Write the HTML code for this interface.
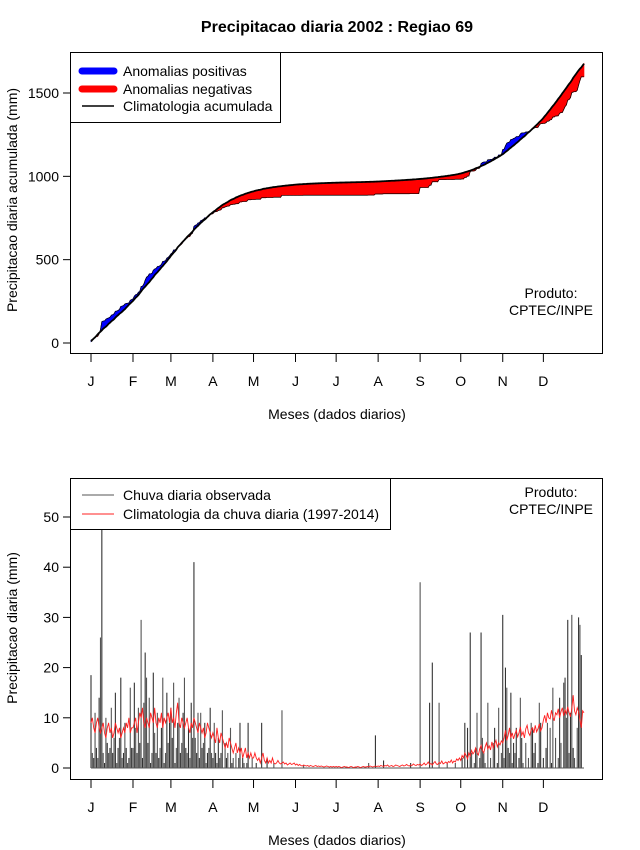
<!DOCTYPE html>
<html><head><meta charset="utf-8">
<style>
html,body{margin:0;padding:0;background:#fff;}
svg{display:block;font-family:"Liberation Sans",Arial,sans-serif;}
</style></head>
<body>
<svg id="chart" width="640" height="850" viewBox="0 0 640 850" xmlns="http://www.w3.org/2000/svg">
<rect x="0" y="0" width="640" height="850" fill="#fff"/>
<text x="337" y="32" font-size="16" font-weight="bold" text-anchor="middle">Precipitacao diaria 2002 : Regiao 69</text>
<g id="topPlot"></g>
<g id="bottomPlot"></g>
</svg>
<script>
const months = ["J","F","M","A","M","J","J","A","S","O","N","D"];
const monthStartDays = [1,32,60,91,121,152,182,213,244,274,305,335];
const topYTicks = [0,500,1000,1500];
const bottomYTicks = [0,10,20,30,40,50];
const obsJan = [18.5,3,2,11,4,2,14,26,48,3,1,10,5,3,4,12,3,6,15,1,4,6,18,2,3,9,4,1,2,16,4];
const obsFeb = [4,17,8,3,12,5,29.5,2,13,23,18,5,14,1,3,19,7,3,11,2,4,8,18,1,3,15,5,9];
const obsMar = [12,6,17,1,4,9,14,3,5,11,18,4,3,8,2,13,6,41,6,3,11,2,11,4,5,9,1,3,4,12,3];
const obsApr = [2,9,3,1,6,2,3,11.5,0,5,2,3,0,8,1,2,0,3,0,2,9,0,2,1,0,1,9,0,0,2];
const obsMay = [0,0,1,0,0,0,9,0,0,0,2,0,0,0,0,1,0,0,0,0,0,11.5,0,0,0,0,0,0,0,0,0];
const obsJun = [0,0,0,0,0,0,0.5,0,0,0,0,0,0,0,0,0,0,0,0,0,0,0,0,0,0,0,0,0,0,0];
const obsJul = [0,0,0,0,0,0,0,0,0,0,0,0,0,0,0,0,0,0,0,0,0,0,0,0,1,0,0,0,0,6.5,0];
const obsAug = [0,0,0,0,1.5,0,0,0,0,0,0,0,0,0,0,0,0,0,0,0,0,0,0,0,1,0,0,0,0,0,0];
const obsSep = [37,0,0,0,0,0,0,13,0,21,0,0,0,0,13,0,0,0,0,0,1,0,0,0,0,0,1,0,0,0];
const obsOct = [0,2,0,9,0,8,0,27,3,0,1,4,11,0,2,27,6,3,1,0,13,0,2,0,5,8,0,1,12,0,3];
const obsNov = [30.5,2,20,16,4,3,15,1,5,3,8,0,2,14,6,1,0,5,0,2,0,9,8,3,5,0,1,13,9,0];
const obsDec = [2,0,4,9,0,8,1,16,0,6,0,2,14,5,0,17,18,10,29.5,3,11,30.5,4,2,0,8,30,28.5,22.5,0,0];
const climJan = [9,10,8,7,9,10,8,7,8,9,7,6,8,9,7,8,6,7,9,8,7,8,6,7,8,7,9,8,10,7,8];
const climFeb = [8,9,10,7,9,11,10,12,9,8,10,9,8,11,10,9,12,9,8,10,9,11,8,10,9,10,11,9];
const climMar = [12,9,10,8,11,13,9,8,10,9,8,9,10,8,7,9,8,10,9,8,7,9,8,7,8,6,7,9,8,7,6];
const climApr = [7,6,5,8,6,5,7,6,5,4,5,4,6,5,4,3,4,5,3,4,3,4,2,3,4,2,3,2,3,2];
const climMay = [2,3,2,1.5,2,1,2,3,1.5,1,2,1,1.5,1,2,1,0.8,1,1.5,1,0.8,1,1.2,0.8,1,0.6,0.8,1,0.7,0.8,1];
const climJun = [0.6,0.8,0.5,0.7,0.5,0.4,0.6,0.5,0.4,0.5,0.3,0.5,0.4,0.3,0.4,0.5,0.3,0.4,0.3,0.4,0.3,0.2,0.3,0.4,0.3,0.2,0.3,0.2,0.3,0.2];
const climJul = [0.3,0.2,0.3,0.2,0.1,0.2,0.3,0.2,0.2,0.1,0.2,0.3,0.2,0.1,0.2,0.2,0.3,0.2,0.1,0.2,0.3,0.2,0.2,0.3,0.2,0.4,0.3,0.2,0.3,0.4,0.3];
const climAug = [0.4,0.3,0.5,0.4,0.3,0.5,0.4,0.6,0.3,0.4,0.5,0.3,0.4,0.6,0.5,0.4,0.3,0.5,0.6,0.4,0.5,0.7,0.5,0.4,0.6,0.5,0.8,0.6,0.5,0.7,0.6];
const climSep = [0.8,0.5,0.7,1,0.6,0.8,1.2,0.7,0.9,0.6,1,1.3,0.8,0.7,1.1,0.9,1.4,0.8,1,1.2,0.9,1.3,1.1,1.6,1,1.4,1.2,1.8,1.5,2];
const climOct = [1.5,2.5,2,3,2.5,1.8,3,2.4,3.5,2.8,3.2,4,3,2.6,3.8,4.5,3.5,3,4.2,5,3.8,4.4,3.6,5.2,4,4.8,5.5,4.2,5,4.6,5.4];
const climNov = [5,6,7.5,5.5,6.5,8,6,7,5.8,6.8,7.5,6.2,7,8.2,6.5,7.2,6,7.8,8.5,7,6.5,7.6,8,7,8.5,7.2,7.8,8.8,7.4,8];
const climDec = [9.5,10.5,9,11,10,9.8,11.5,10.2,9.4,11,10.6,11.8,10,11.2,12,10.4,11.6,10.8,12.2,11,10.2,11.8,14.5,11.4,10.6,12,11.2,9.6,8,11.4,11];
const obs = [].concat(obsJan,obsFeb,obsMar,obsApr,obsMay,obsJun,obsJul,obsAug,obsSep,obsOct,obsNov,obsDec);
const clim = [].concat(climJan,climFeb,climMar,climApr,climMay,climJun,climJul,climAug,climSep,climOct,climNov,climDec);

const NS = "http://www.w3.org/2000/svg";
function mk(parent, tag, attrs, text){
  const e = document.createElementNS(NS, tag);
  for (const k in attrs) e.setAttribute(k, attrs[k]);
  if (text !== undefined) e.textContent = text;
  parent.appendChild(e);
  return e;
}
const xDay = d => 91 + (d - 1) * 493 / 364;
const yTop = v => 343 - v * 250 / 1500;
const yBot = v => 768 - v * 50.2 / 10;

// ---------- TOP ----------
const topG = document.getElementById('topPlot');
let co = [], cc = [], so = 0, sc = 0;
for (let i = 0; i < obs.length; i++){ so += obs[i]; sc += clim[i]; co.push(so); cc.push(sc); }
for (let i = 0; i < co.length - 1; i++){
  const d0 = co[i] - cc[i], d1 = co[i+1] - cc[i+1];
  const x0 = xDay(i+1), x1 = xDay(i+2);
  const col = (d0 + d1) >= 0 ? '#0000ff' : '#ff0000';
  const pts = `${x0},${yTop(co[i])} ${x1},${yTop(co[i+1])} ${x1},${yTop(cc[i+1])} ${x0},${yTop(cc[i])}`;
  const p = mk(topG, 'polygon', {points: pts, fill: col, stroke: col, 'stroke-width': 0.6});
  
  
}
let pathO = '', pathC = '';
for (let i = 0; i < co.length; i++){
  pathO += (i ? 'L' : 'M') + xDay(i+1).toFixed(2) + ',' + yTop(co[i]).toFixed(2);
  pathC += (i ? 'L' : 'M') + xDay(i+1).toFixed(2) + ',' + yTop(cc[i]).toFixed(2);
}
const lo = mk(topG, 'path', {d: pathO, fill: 'none', stroke: '#000', 'stroke-width': 0.7});


const lc = mk(topG, 'path', {d: pathC, fill: 'none', stroke: '#000', 'stroke-width': 1.8});


const tb = mk(topG, 'rect', {x: 70.5, y: 52.5, width: 532, height: 301, fill: 'none', stroke: '#000'});


topYTicks.forEach(v => {
  mk(topG, 'line', {x1: 63, x2: 70.5, y1: yTop(v), y2: yTop(v), stroke: '#000'});
  const t = mk(topG, 'text', {x: 59, y: yTop(v) + 5, 'font-size': 14, 'text-anchor': 'end'}, String(v));
  
  
});
months.forEach((m, i) => {
  const x = xDay(monthStartDays[i]);
  mk(topG, 'line', {x1: x, x2: x, y1: 354, y2: 362, stroke: '#000'});
  const t = mk(topG, 'text', {x: x, y: 386, 'font-size': 14, 'text-anchor': 'middle'}, m);
  
  
});
const tyt = mk(topG, 'text', {x: 0, y: 0, 'font-size': 14, 'text-anchor': 'middle', transform: 'translate(17,200) rotate(-90)'}, 'Precipitacao diaria acumulada (mm)');


const txt = mk(topG, 'text', {x: 337, y: 419, 'font-size': 14, 'text-anchor': 'middle'}, 'Meses (dados diarios)');


const tp1 = mk(topG, 'text', {x: 551, y: 298, 'font-size': 14, 'text-anchor': 'middle'}, 'Produto:');


const tp2 = mk(topG, 'text', {x: 551, y: 315, 'font-size': 14, 'text-anchor': 'middle'}, 'CPTEC/INPE');


const tl = mk(topG, 'g', {});


mk(tl, 'rect', {x: 70.5, y: 52.5, width: 210, height: 70, fill: '#fff', stroke: '#000'});
[['#0000ff', 7, 'Anomalias positivas', 71], ['#ff0000', 7, 'Anomalias negativas', 89], ['#000', 1.5, 'Climatologia acumulada', 106]].forEach(e => {
  mk(tl, 'line', {x1: 82, x2: 114, y1: e[3], y2: e[3], stroke: e[0], 'stroke-width': e[1], 'stroke-linecap': e[1] > 2 ? 'round' : 'butt'});
  const t = mk(tl, 'text', {x: 123, y: e[3] + 5, 'font-size': 14}, e[2]);
  
  
});

// ---------- BOTTOM ----------
const botG = document.getElementById('bottomPlot');
obs.forEach((v, i) => {
  if (v <= 0) return;
  const x = xDay(i+1);
  const b = mk(botG, 'line', {x1: x, x2: x, y1: yBot(0), y2: Math.max(yBot(v), 479), stroke: i % 2 ? '#555' : '#333', 'stroke-width': 1.1});
  
  
});
mk(botG, 'line', {x1: xDay(1), x2: xDay(365), y1: yBot(0), y2: yBot(0), stroke: '#555', 'stroke-width': 1});
let pc = '';
clim.forEach((v, i) => { pc += (i ? 'L' : 'M') + xDay(i+1).toFixed(2) + ',' + yBot(v).toFixed(2); });
const cl = mk(botG, 'path', {d: pc, fill: 'none', stroke: '#ff2020', 'stroke-width': 0.9});


const bb = mk(botG, 'rect', {x: 70.5, y: 478.5, width: 532, height: 301, fill: 'none', stroke: '#000'});


bottomYTicks.forEach(v => {
  mk(botG, 'line', {x1: 63, x2: 70.5, y1: yBot(v), y2: yBot(v), stroke: '#000'});
  const t = mk(botG, 'text', {x: 59, y: yBot(v) + 5, 'font-size': 14, 'text-anchor': 'end'}, String(v));
  
  
});
months.forEach((m, i) => {
  const x = xDay(monthStartDays[i]);
  mk(botG, 'line', {x1: x, x2: x, y1: 780, y2: 788, stroke: '#000'});
  const t = mk(botG, 'text', {x: x, y: 812, 'font-size': 14, 'text-anchor': 'middle'}, m);
  
  
});
const byt = mk(botG, 'text', {x: 0, y: 0, 'font-size': 14, 'text-anchor': 'middle', transform: 'translate(17,628) rotate(-90)'}, 'Precipitacao diaria (mm)');


const bxt = mk(botG, 'text', {x: 337, y: 845, 'font-size': 14, 'text-anchor': 'middle'}, 'Meses (dados diarios)');


const bp1 = mk(botG, 'text', {x: 551, y: 497, 'font-size': 14, 'text-anchor': 'middle'}, 'Produto:');


const bp2 = mk(botG, 'text', {x: 551, y: 514, 'font-size': 14, 'text-anchor': 'middle'}, 'CPTEC/INPE');


const bl = mk(botG, 'g', {});


mk(bl, 'rect', {x: 70.5, y: 478.5, width: 320, height: 51, fill: '#fff', stroke: '#000'});
[['#555', 'Chuva diaria observada', 495], ['#ff2020', 'Climatologia da chuva diaria (1997-2014)', 514]].forEach(e => {
  mk(bl, 'line', {x1: 82, x2: 114, y1: e[2], y2: e[2], stroke: e[0], 'stroke-width': 1});
  const t = mk(bl, 'text', {x: 123, y: e[2] + 5, 'font-size': 14}, e[1]);
  
  
});
</script>
</body></html>
